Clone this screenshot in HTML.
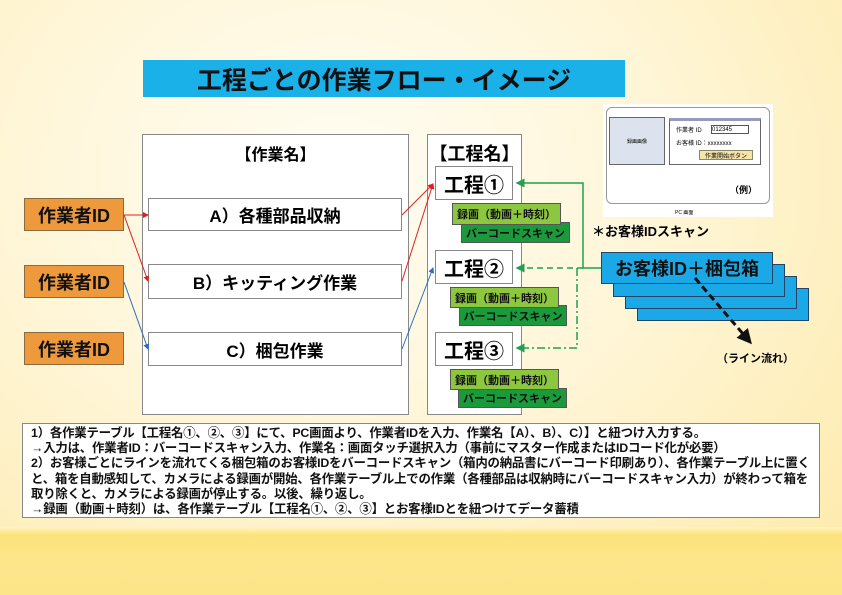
<!DOCTYPE html>
<html><head><meta charset="utf-8"><style>
*{margin:0;padding:0;box-sizing:border-box}
body{width:842px;height:595px;overflow:hidden;position:relative;font-family:"Liberation Sans","Noto Sans CJK JP",sans-serif;font-weight:bold;
background:radial-gradient(ellipse at 40% 30%,#fffdf3 0%,#fff6d8 45%,#fde9a8 100%);}
.a{position:absolute}
.band{left:0;top:527px;width:842px;height:68px;background:linear-gradient(#fff3c4 0,#fde27a 8px,#fde68a 30px,#fce489 100%)}
.box{position:absolute;background:#fff;border:1px solid #888}
.c{display:flex;align-items:center;justify-content:center;white-space:nowrap}
.w{background:#ee9a3c;border:1px solid #8a6a40;font-size:18px;color:#111}
.lg{background:#8dc63f;border:1px solid #555;font-size:11px;color:#111}
.dg{background:#1a9a3a;border:1px solid #555;font-size:11px;color:#111}
.bl{background:#1aa8e6;border:1px solid #246;font-size:18px;color:#111}
</style></head><body>
<div class="a band"></div>
<div class="a c" style="left:143px;top:60px;width:482px;height:37px;background:#1ab0e8;font-size:25px;color:#111">工程ごとの作業フロー・イメージ</div>

<div class="box" style="left:142px;top:134px;width:267px;height:281px"></div>
<div class="a c" style="left:142px;top:142px;width:267px;height:22px;font-size:16px">【作業名】</div>
<div class="box c" style="left:148px;top:198px;width:254px;height:33px;font-size:17px">A）各種部品収納</div>
<div class="box c" style="left:148px;top:264px;width:254px;height:35px;font-size:17px">B）キッティング作業</div>
<div class="box c" style="left:148px;top:332px;width:254px;height:34px;font-size:17px">C）梱包作業</div>

<div class="a c w" style="left:24px;top:198px;width:100px;height:33px">作業者ID</div>
<div class="a c w" style="left:24px;top:265px;width:100px;height:33px">作業者ID</div>
<div class="a c w" style="left:24px;top:332px;width:100px;height:33px">作業者ID</div>

<div class="box" style="left:427px;top:134px;width:95px;height:281px"></div>
<div class="a c" style="left:427px;top:141px;width:95px;height:24px;font-size:18px">【工程名】</div>
<div class="box c" style="left:435px;top:166px;width:78px;height:34px;font-size:20px">工程①</div>
<div class="box c" style="left:435px;top:250px;width:78px;height:34px;font-size:20px">工程②</div>
<div class="box c" style="left:435px;top:332px;width:78px;height:34px;font-size:20px">工程③</div>

<div class="a c dg" style="left:461px;top:222px;width:109px;height:21px">バーコードスキャン</div>
<div class="a c lg" style="left:452px;top:203px;width:109px;height:22px">録画（動画＋時刻）</div>
<div class="a c dg" style="left:459px;top:305px;width:108px;height:21px">バーコードスキャン</div>
<div class="a c lg" style="left:450px;top:287px;width:109px;height:21px">録画（動画＋時刻）</div>
<div class="a c dg" style="left:458px;top:388px;width:109px;height:20px">バーコードスキャン</div>
<div class="a c lg" style="left:450px;top:369px;width:109px;height:21px">録画（動画＋時刻）</div>

<div class="a" style="left:603px;top:104px;width:170px;height:113px;background:#fff"></div>
<div class="a" style="left:606px;top:107px;width:164px;height:97px;border:1px solid #999;border-radius:6px;background:#fff"></div>
<div class="a c" style="left:609px;top:117px;width:56px;height:48px;background:#dde3ee;border:1px solid #666;font-size:5px;font-weight:normal">録画画像</div>
<div class="a" style="left:669px;top:118px;width:92px;height:47px;border:1px solid #666;border-top:3px solid #99b"></div>
<div class="a" style="left:676px;top:125px;font-size:6px;font-weight:normal">作業者 ID</div>
<div class="a" style="left:711px;top:125px;width:38px;height:9px;border:1px solid #555;font-size:6px;font-weight:normal;line-height:8px">012345</div>
<div class="a" style="left:676px;top:138px;font-size:6px;font-weight:normal">お客様 ID：xxxxxxxx</div>
<div class="a c" style="left:699px;top:150px;width:54px;height:10px;background:#f6e4a8;border:1px solid #886;font-size:6px;font-weight:normal">作業開始ボタン</div>
<div class="a" style="left:730px;top:183px;font-size:9px">（例）</div>
<div class="a" style="left:675px;top:209px;font-size:5px;font-weight:normal">PC 画面</div>

<div class="a" style="left:592px;top:221px;font-size:13px">＊お客様IDスキャン</div>

<div class="a c bl" style="left:637px;top:288px;width:172px;height:33px"></div>
<div class="a c bl" style="left:625px;top:276px;width:172px;height:33px"></div>
<div class="a c bl" style="left:613px;top:264px;width:172px;height:33px"></div>
<div class="a c bl" style="left:601px;top:252px;width:172px;height:32px">お客様ID＋梱包箱</div>
<div class="a" style="left:717px;top:350px;font-size:11px">（ライン流れ）</div>

<svg class="a" style="left:0;top:0" width="842" height="595">
<defs>
<marker id="r" markerWidth="6" markerHeight="6" refX="5" refY="3" orient="auto"><path d="M0,0L6,3L0,6z" fill="#e02020"/></marker>
<marker id="b" markerWidth="6" markerHeight="6" refX="5" refY="3" orient="auto"><path d="M0,0L6,3L0,6z" fill="#2a6fc0"/></marker>
<marker id="g" markerWidth="6" markerHeight="6" refX="5" refY="3" orient="auto"><path d="M0,0L6,3L0,6z" fill="#20a050"/></marker>
<marker id="k" markerWidth="5" markerHeight="5" refX="4" refY="2.5" orient="auto"><path d="M0,0L5,2.5L0,5z" fill="#111"/></marker>
</defs>
<g stroke-width="1" fill="none">
<path d="M124,215H148" stroke="#e02020" marker-end="url(#r)"/>
<path d="M124,215L148,281" stroke="#e02020" marker-end="url(#r)"/>
<path d="M402,215L433,184" stroke="#e02020" marker-end="url(#r)"/>
<path d="M402,281L433,184" stroke="#e02020" marker-end="url(#r)"/>
<path d="M124,282L148,349" stroke="#2a6fc0" marker-end="url(#b)"/>
<path d="M402,349L433,268" stroke="#2a6fc0" marker-end="url(#b)"/>
</g>
<g stroke="#20a050" stroke-width="1.5" fill="none">
<path d="M601,268H583V183H517" marker-end="url(#g)"/>
<path d="M583,268H517" stroke-dasharray="6,4" marker-end="url(#g)"/>
<path d="M577,268V348H517" stroke-dasharray="8,3,2,3" marker-end="url(#g)"/>
</g>
<path d="M695,278L750,342" stroke="#111" stroke-width="3" stroke-dasharray="7,4" fill="none" marker-end="url(#k)"/>
</svg>

<div class="box" style="left:22px;top:423px;width:798px;height:95px;padding:2px 0 0 8px;font-size:12.4px;line-height:15.2px;color:#111;white-space:nowrap;letter-spacing:-0.2px;overflow:hidden">
1）各作業テーブル【工程名①、②、③】にて、PC画面より、作業者IDを入力、作業名【A）、B）、C）】と紐つけ入力する。<br>
→入力は、作業者ID：バーコードスキャン入力、作業名：画面タッチ選択入力（事前にマスター作成またはIDコード化が必要）<br>
2）お客様ごとにラインを流れてくる梱包箱のお客様IDをバーコードスキャン（箱内の納品書にバーコード印刷あり）、各作業テーブル上に置く<br>
と、箱を自動感知して、カメラによる録画が開始、各作業テーブル上での作業（各種部品は収納時にバーコードスキャン入力）が終わって箱を<br>
取り除くと、カメラによる録画が停止する。以後、繰り返し。<br>
→録画（動画＋時刻）は、各作業テーブル【工程名①、②、③】とお客様IDとを紐つけてデータ蓄積
</div>
</body></html>
